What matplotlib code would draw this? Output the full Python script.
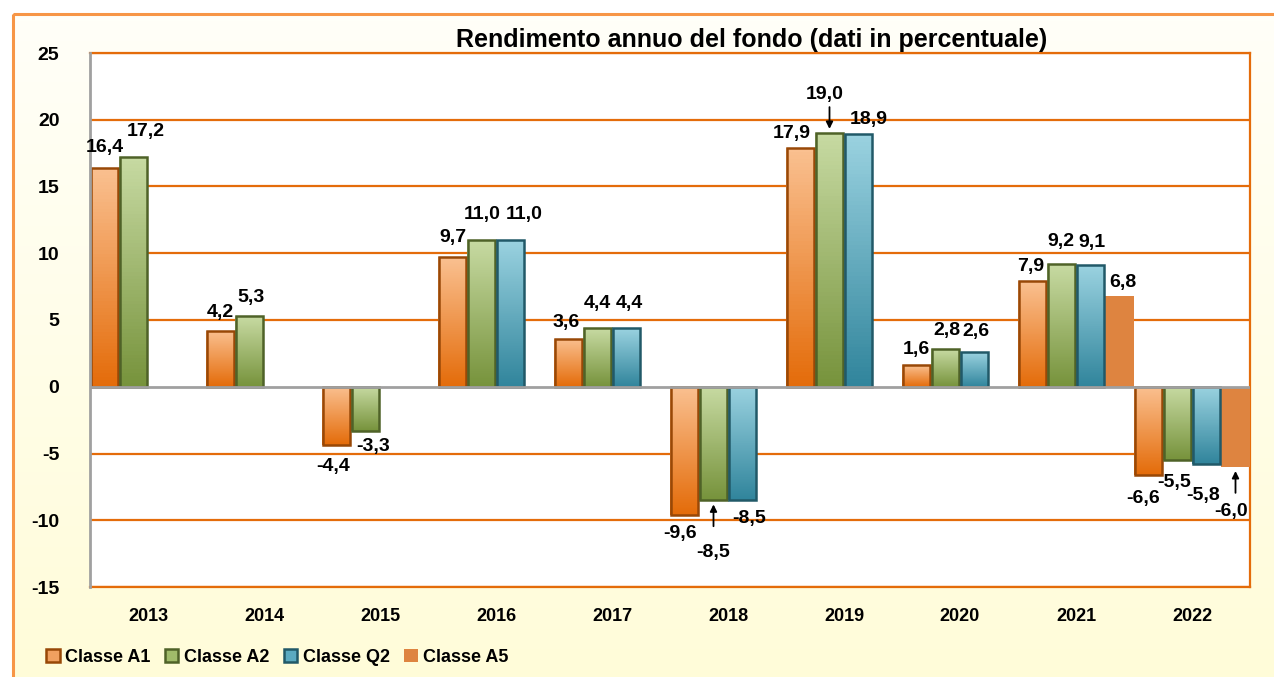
import numpy as np
import matplotlib
matplotlib.use("Agg")
import matplotlib.pyplot as plt
from matplotlib.patches import Rectangle, Patch
from matplotlib.colors import LinearSegmentedColormap, to_rgb

# ---------------- data ----------------
years = ['2013', '2014', '2015', '2016', '2017', '2018', '2019', '2020', '2021', '2022']
series_names = ['Classe A1', 'Classe A2', 'Classe Q2', 'Classe A5']
classe_a1 = [16.4, 4.2, -4.4, 9.7, 3.6, -9.6, 17.9, 1.6, 7.9, -6.6]
classe_a2 = [17.2, 5.3, -3.3, 11.0, 4.4, -8.5, 19.0, 2.8, 9.2, -5.5]
classe_q2 = [np.nan, np.nan, np.nan, 11.0, 4.4, -8.5, 18.9, 2.6, 9.1, -5.8]
classe_a5 = [np.nan] * 8 + [6.8, -6.0]
y_ticks = [-15, -10, -5, 0, 5, 10, 15, 20, 25]
title = 'Rendimento annuo del fondo (dati in percentuale)'

# ---------------- styles ----------------
FONT = ['Liberation Sans Narrow', 'Liberation Sans', 'DejaVu Sans']
plt.rcParams['font.family'] = FONT
plt.rcParams['font.weight'] = 'bold'

grad = {  # top colour, bottom colour, edge colour
    0: ('#FAC090', '#E46C0A', '#984807'),
    1: ('#C7DAA2', '#77933C', '#4F6228'),
    2: ('#9AD2E0', '#31859C', '#215968'),
}
a5_color = '#DE8440'
grid_color = '#E46C0A'
border_color = '#F79646'
LABEL_FS = 14

# label offsets in pixels (dx, dy) measured from bar end (dy up positive)
label_off = {
    (0, 0): (0, 20), (1, 0): (12, 26),
    (0, 1): (0, 18), (1, 1): (1, 18),
    (0, 2): (-3, -21), (1, 2): (8, -16),
    (0, 3): (0, 20), (1, 3): (1, 25), (2, 3): (14, 25),
    (0, 4): (-2, 16), (1, 4): (0, 25), (2, 4): (3, 25),
    (0, 5): (-4, -19), (1, 5): (0, -52), (2, 5): (7, -18),
    (0, 6): (-9, 14), (1, 6): (-5, 39), (2, 6): (10, 15),
    (0, 7): (0, 16), (1, 7): (1, 19), (2, 7): (1, 21),
    (0, 8): (-2, 15), (1, 8): (-1, 22), (2, 8): (1, 23), (3, 8): (3, 13),
    (0, 9): (-5, -24), (1, 9): (-3, -22), (2, 9): (-3, -31), (3, 9): (-4, -45),
}
arrow_labels = {(1, 5), (1, 6), (3, 9)}

W, H = 1274, 677
fig = plt.figure(figsize=(W / 100, H / 100), dpi=100)
fig.patch.set_facecolor('white')

# background gradient panel with orange frame
bg = fig.add_axes([0, 0, 1, 1], zorder=-5)
bg.axis('off')
bgcol = np.linspace(0, 1, 100)[:, None, None]
top_c = np.array(to_rgb('#FFFFF8'))
bot_c = np.array(to_rgb('#FFFCD8'))
img = top_c * (1 - bgcol) + bot_c * bgcol
bg.imshow(np.repeat(img, 2, axis=1), extent=(13, W + 20, H + 20, 14), aspect='auto', zorder=0)
bg.add_patch(Rectangle((13, 14), W + 20, H + 20, fill=False, edgecolor=border_color, lw=2.2, zorder=1))
bg.set_xlim(0, W)
bg.set_ylim(H, 0)

# main axes
left, right, top, bottom = 90, 1250, 53, 587
ax = fig.add_axes([left / W, 1 - bottom / H, (right - left) / W, (bottom - top) / H])
ax.set_facecolor('white')

for yv in y_ticks:
    if yv != 0:
        ax.axhline(yv, color=grid_color, lw=1.6, zorder=1)
ax.axhline(0, color='#A0A0A0', lw=2.0, zorder=6)

for s in ['top', 'right', 'bottom']:
    ax.spines[s].set_color(grid_color)
    ax.spines[s].set_linewidth(1.6)
ax.spines['left'].set_color('#A0A0A0')
ax.spines['left'].set_linewidth(2.0)
ax.spines['left'].set_zorder(7)

ax.set_yticks(y_ticks)
ax.set_yticklabels([str(v) for v in y_ticks], fontsize=14, fontweight='bold')
ax.set_xticks(range(len(years)))
ax.set_xticklabels(years, fontsize=13, fontweight='bold')
ax.tick_params(axis='both', length=0)
ax.tick_params(axis='y', pad=22)
ax.tick_params(axis='x', pad=15)

all_series = [classe_a1, classe_a2, classe_q2, classe_a5]
bw = 0.25
x = np.arange(len(years))


def fmt(v):
    return f"{v:.1f}".replace('.', ',')


for j, vals in enumerate(all_series):
    vals = np.array(vals, dtype=float)
    xs = x + (j - 1.5) * bw
    for i, (xi, v) in enumerate(zip(xs, vals)):
        if np.isnan(v):
            continue
        if j == 3:
            ax.bar(xi, v, width=bw, color=a5_color, edgecolor='none', zorder=3)
        else:
            c_top, c_bot, c_edge = grad[j]
            cmap = LinearSegmentedColormap.from_list('g', [c_top, c_bot])
            bars = ax.bar(xi, v, width=bw, facecolor='none', edgecolor='none', zorder=3)
            patch = bars[0]
            y0, y1 = min(0, v), max(0, v)
            im = ax.imshow(np.linspace(0, 1, 64)[:, None], cmap=cmap, aspect='auto',
                           extent=(xi - bw / 2, xi + bw / 2, y0, y1), origin='upper', zorder=3)
            im.set_clip_path(patch)
            ax.bar(xi, v, width=bw - 0.012, facecolor='none', edgecolor=c_edge, lw=1.8, zorder=4)
        dx, dy = label_off.get((j, i), (0, 18 if v >= 0 else -18))
        ax.annotate(fmt(v), xy=(xi, v), xytext=(dx, dy), textcoords='offset pixels',
                    ha='center', va='center', fontsize=LABEL_FS, fontweight='bold', zorder=8)
        if (j, i) in arrow_labels:
            sgn = 1 if v >= 0 else -1
            ax.annotate('', xy=(xi, v), xytext=(0, sgn * 26), textcoords='offset pixels',
                        arrowprops=dict(arrowstyle='-|>', color='black', lw=1.3,
                                        mutation_scale=10, shrinkA=0, shrinkB=3),
                        zorder=8)

ax.set_xlim(-0.5, len(years) - 0.5)
ax.set_ylim(-15, 25)

fig.text(752 / W, 1 - 40 / H, title, ha='center', va='center', fontsize=18, fontweight='bold')

handles = [
    Patch(facecolor='#F0A060', edgecolor=grad[0][2], lw=1.8),
    Patch(facecolor='#A0BB6A', edgecolor=grad[1][2], lw=1.8),
    Patch(facecolor='#5BAAC0', edgecolor=grad[2][2], lw=1.8),
    Patch(facecolor=a5_color, edgecolor='none'),
]
fig.legend(handles, series_names, loc='center left', bbox_to_anchor=(46 / W, 1 - 657 / H),
           ncol=4, frameon=False, handlelength=0.75, handleheight=0.75,
           handletextpad=0.3, columnspacing=0.8, borderpad=0, borderaxespad=0,
           prop={'weight': 'bold', 'size': 13, 'family': FONT})

fig.savefig('out.png', dpi=100)
